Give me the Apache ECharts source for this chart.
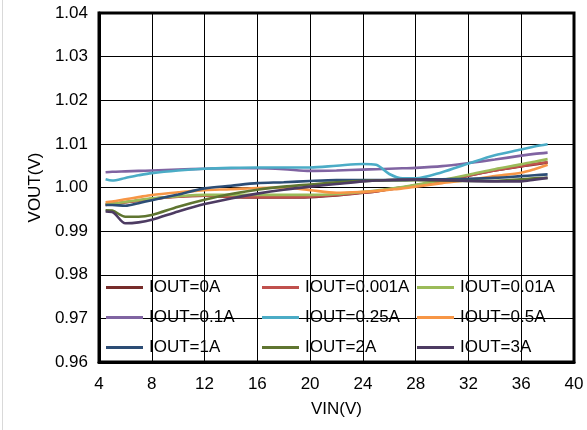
<!DOCTYPE html>
<html>
<head>
<meta charset="utf-8">
<script src="https://cdn.jsdelivr.net/npm/echarts@6/dist/echarts.min.js"></script>
<style>
html,body{margin:0;padding:0;background:#fff;}
#c{width:587px;height:430px;}
</style>
</head>
<body>
<div id="c"></div>
<script>
const VIN = [4.5, 5, 6, 7, 8, 10, 12, 14, 16, 18, 20, 22, 24, 25, 26, 27, 28, 30, 32, 34, 36, 37, 38];
const seriesNames = ['IOUT=0A','IOUT=0.001A','IOUT=0.01A','IOUT=0.1A','IOUT=0.25A','IOUT=0.5A','IOUT=1A','IOUT=2A','IOUT=3A'];
const iout0A    = [0.9960,0.9962,0.9966,0.9970,0.9974,0.9979,0.9981,0.9978,0.9977,0.9977,0.9978,0.9982,0.9988,0.9991,0.9996,1.0000,1.0005,1.0015,1.0027,1.0039,1.0048,1.0053,1.0057];
const iout0001A = [0.9961,0.9962,0.9966,0.9970,0.9974,0.9979,0.9981,0.9979,0.9978,0.9978,0.9979,0.9983,0.9988,0.9991,0.9996,1.0000,1.0005,1.0015,1.0027,1.0039,1.0049,1.0054,1.0058];
const iout001A  = [0.9962,0.9963,0.9967,0.9971,0.9975,0.9980,0.9983,0.9983,0.9983,0.9983,0.9983,0.9985,0.9990,0.9993,0.9997,1.0001,1.0006,1.0017,1.0029,1.0042,1.0053,1.0059,1.0065];
const iout01A   = [1.0035,1.0036,1.0037,1.0038,1.0039,1.0041,1.0043,1.0044,1.0044,1.0042,1.0038,1.0039,1.0041,1.0042,1.0043,1.0044,1.0045,1.0049,1.0056,1.0064,1.0073,1.0077,1.0080];
const iout025A  = [1.0019,1.0016,1.0022,1.0028,1.0033,1.0039,1.0043,1.0045,1.0046,1.0046,1.0046,1.0050,1.0054,1.0052,1.0031,1.0021,1.0021,1.0035,1.0055,1.0074,1.0087,1.0094,1.0099];
const iout05A   = [0.9966,0.9968,0.9973,0.9978,0.9983,0.9989,0.9994,0.9996,0.9999,1.0000,0.9994,0.9988,0.9990,0.9992,0.9995,0.9998,1.0002,1.0010,1.0017,1.0026,1.0034,1.0042,1.0052];
const iout1A    = [0.9960,0.9960,0.9958,0.9964,0.9971,0.9984,0.9998,1.0004,1.0010,1.0012,1.0015,1.0017,1.0017,1.0017,1.0017,1.0017,1.0018,1.0019,1.0020,1.0022,1.0026,1.0028,1.0030];
const iout2A    = [0.9948,0.9947,0.9933,0.9933,0.9937,0.9956,0.9972,0.9985,0.9995,1.0002,1.0007,1.0012,1.0015,1.0016,1.0017,1.0017,1.0017,1.0016,1.0015,1.0015,1.0019,1.0021,1.0022];
const iout3A    = [0.9945,0.9944,0.9918,0.9920,0.9926,0.9945,0.9962,0.9975,0.9986,0.9995,1.0002,1.0008,1.0014,1.0016,1.0017,1.0018,1.0018,1.0017,1.0015,1.0014,1.0014,1.0018,1.0022];
const seriesValues = [iout0A, iout0001A, iout001A, iout01A, iout025A, iout05A, iout1A, iout2A, iout3A];
const colors = ['#772C2A','#C0504D','#9BBB59','#8064A2','#4BACC6','#F79646','#2C4D75','#5F7530','#4D3B62'];

const FONT = 'Liberation Sans, Arial, sans-serif';
const chart = echarts.init(document.getElementById('c'), null, {renderer:'canvas'});

const series = seriesNames.map((n, i) => ({
  name: n,
  type: 'line',
  smooth: 0.3,
  showSymbol: false,
  symbol: 'none',
  data: VIN.map((x, j) => [x, seriesValues[i][j]]),
  lineStyle: {width: 2.6, color: colors[i]},
  itemStyle: {color: colors[i]},
  z: 3 + i
}));

function legendCol(left, names) {
  return {
    orient: 'vertical',
    left: left,
    top: 279,
    itemWidth: 37,
    itemHeight: 3,
    itemGap: 13,
    icon: 'rect',
    data: names,
    textStyle: {fontFamily: FONT, fontSize: 17, color: '#000', padding: [0,0,0,1]},
    padding: 0,
    selectedMode: false
  };
}

chart.setOption({
  animation: false,
  color: colors,
  grid: {left: 99, right: 13, top: 13, bottom: 68, show: true, borderColor: '#000', borderWidth: 3, backgroundColor: 'transparent'},
  xAxis: {
    type: 'value', min: 4, max: 40, interval: 4,
    name: 'VIN(V)', nameLocation: 'middle', nameGap: 39,
    nameTextStyle: {fontFamily: FONT, fontSize: 17, color: '#000'},
    axisLine: {show: true, lineStyle: {color: '#000', width: 3}},
    axisTick: {show: false},
    axisLabel: {fontFamily: FONT, fontSize: 17, color: '#000', margin: 14},
    splitLine: {show: true, lineStyle: {color: '#000', width: 1}}
  },
  yAxis: {
    type: 'value', min: 0.96, max: 1.04, interval: 0.01,
    name: 'VOUT(V)', nameLocation: 'middle', nameGap: 52,
    nameTextStyle: {fontFamily: FONT, fontSize: 17, color: '#000'},
    axisLine: {show: true, lineStyle: {color: '#000', width: 3}},
    axisTick: {show: false},
    axisLabel: {fontFamily: FONT, fontSize: 17, color: '#000', margin: 11, formatter: v => v.toFixed(2)},
    splitLine: {show: true, lineStyle: {color: '#000', width: 1}}
  },
  legend: [
    legendCol(106, ['IOUT=0A','IOUT=0.1A','IOUT=1A']),
    legendCol(262, ['IOUT=0.001A','IOUT=0.25A','IOUT=2A']),
    legendCol(417, ['IOUT=0.01A','IOUT=0.5A','IOUT=3A'])
  ],
  graphic: [
    {type: 'line', shape: {x1: 2.5, y1: 0, x2: 2.5, y2: 430}, style: {stroke: '#d9d9d9', lineWidth: 1}, silent: true}
  ],
  series: series
});
</script>
</body>
</html>
